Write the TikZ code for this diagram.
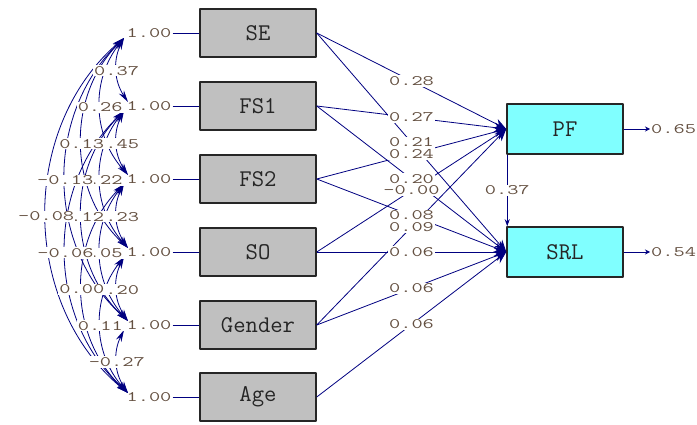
\documentclass[tikz,border=0pt]{standalone}
\usepackage{graphicx}
\usetikzlibrary{arrows.meta}
\definecolor{pathblue}{RGB}{0,0,128}
\definecolor{boxgray}{RGB}{192,192,192}
\definecolor{latcyan}{RGB}{128,255,255}
\definecolor{numbrown}{RGB}{100,80,65}
\newcommand{\wide}[1]{\scalebox{1.5}[1]{#1}}
\tikzset{
  obs/.style={draw=black!85, line width=1.5pt, fill=boxgray, minimum width=116pt,
    minimum height=48pt, inner sep=0pt, text=black!85, font=\fontsize{24}{24}\selectfont\ttfamily},
  endo/.style={obs, fill=latcyan, minimum height=50pt},
  est/.style={text=numbrown, inner sep=1pt, font=\fontsize{14.5}{15}\selectfont\ttfamily},
  estw/.style={est, fill=white},
  path/.style={draw=pathblue, line width=0.8pt},
  corr/.style={path, {Stealth[length=12pt,width=6pt]}-{Stealth[length=12pt,width=6pt]}},
}
\begin{document}
\begin{tikzpicture}[x=1pt, y=-1pt, line join=round]
  \useasboundingbox (0,0) rectangle (697,425);
  % observed variables with variances
  \foreach \n/\y [count=\k] in {SE/33, FS1/106, FS2/179, SO/252, Gender/325, Age/397}{
    \node[obs] (\n) at (258,\y) {\n};
    \node[est] (v\k) at (149,\y) {\wide{1.00}};
    \draw[path] (v\k) -- (\n);
    \coordinate (a\k) at (128,\y-4);
    \coordinate (b\k) at (124,\y+5);
  }
  \node[endo] (PF) at (565,129) {PF};
  \node[endo] (SRL) at (565,252) {SRL};
  % correlations: from/to/bend/value
  \def\corrs{1/2/30/0.37, 2/3/30/0.45, 3/4/30/0.23, 4/5/30/0.20, 5/6/30/-0.27,
    1/3/40/0.26, 2/4/40/0.22, 3/5/40/0.05, 4/6/40/0.11,
    1/4/46/0.13, 2/5/46/0.12, 3/6/46/0.00,
    1/5/47/-0.13, 2/6/47/-0.06, 1/6/50/-0.08}
  \foreach \i/\j/\ang/\r in \corrs
    \draw[corr] (b\i) to[bend right=\ang] (a\j);
  \foreach \i/\j/\ang/\r in \corrs
    \path (b\i) to[bend right=\ang] node[estw]{\wide{\r}} (a\j);
  % structural paths
  \def\paths{SE/PF/0.28, FS1/PF/0.27, FS2/PF/0.24, SO/PF/-0.00, Gender/PF/0.09,
    SE/SRL/0.21, FS1/SRL/0.20, FS2/SRL/0.08, SO/SRL/0.06, Gender/SRL/0.06, Age/SRL/0.06}
  \foreach \s/\t/\b in \paths
    \draw[path, -{Stealth[length=12pt,width=10pt]}] (\s.east) -- (\t.west);
  \foreach \s/\t/\b in \paths
    \path (\s.east) -- (\t.west) node[midway, estw]{\wide{\b}};
  \draw[path, -{Stealth[length=7pt,width=5pt]}] ([xshift=1pt]PF.south west) -- ([xshift=1pt]SRL.north west)
    node[midway, estw]{\wide{0.37}};
  % error variances
  \coordinate (ePF) at (650,129);
  \coordinate (eSRL) at (650,252);
  \draw[path, -{Stealth[length=5pt,width=5pt]}] (PF) -- (ePF);
  \draw[path, -{Stealth[length=5pt,width=5pt]}] (SRL) -- (eSRL);
  \node[est, anchor=west] at (ePF) {\wide{0.65}};
  \node[est, anchor=west] at (eSRL) {\wide{0.54}};
\end{tikzpicture}
\end{document}
